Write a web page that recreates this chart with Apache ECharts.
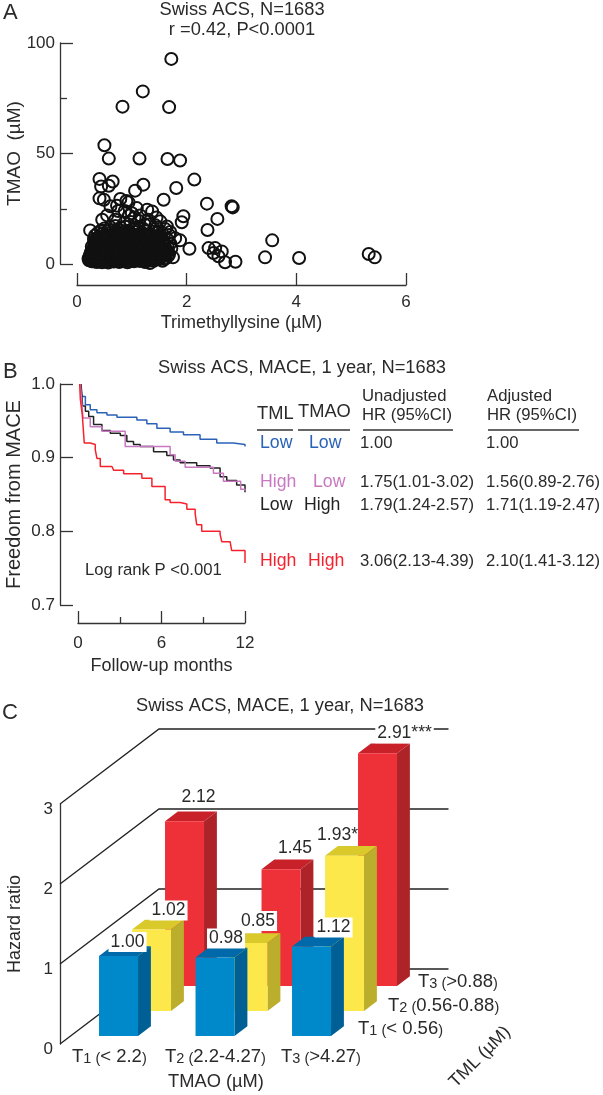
<!DOCTYPE html>
<html><head><meta charset="utf-8">
<script src="https://cdn.jsdelivr.net/npm/echarts@6/dist/echarts.min.js"></script>
<style>html,body{margin:0;padding:0;background:#fff}#c{width:603px;height:1095px}</style>
</head><body><div id="c"></div>
<script>
// Panel A: TML (x), TMAO (y)
const scatterOutliers=[[1.72,92.8],[1.20,78.1],[.83,71.2],[1.68,71.0],[.50,53.7],[.58,47.7],[1.14,47.7],[1.65,47.5],[1.88,46.8],[2.14,38.2],[.41,38.5],[.65,37.3],[1.21,35.9],[.44,35.1],[.58,35.4],[1.06,33.2],[1.81,34.4],[.41,29.7],[.49,29.1],[.79,29.4],[1.58,29.1],[2.37,27.3],[2.82,26.1],[2.84,25.6],[.73,26.4],[.61,26.1],[.94,27.9],[1.09,25.3],[1.28,24.6],[1.37,23.8],[1.0,23],[1.94,21.6],[1.91,18.9],[2.56,20.4],[2.38,15.4],[.46,20],[.70,20],[.24,15.2],[1.52,19.3],[1.24,17.8],[1.64,17],[1.88,10.7],[2.05,6.9],[2.40,7.2],[2.52,7.2],[2.64,5.7],[2.49,5],[2.58,3.5],[2.70,.8],[2.89,1],[3.43,3],[3.56,10.7],[4.05,2.7],[5.32,4.5],[5.43,3],[1.79,11.7],[1.72,7],[1.68,4.5],[1.75,3],[1.56,1.5],[1.33,.4],[.9,28.5],[1.05,21],[.87,24],[1.13,19.5],[1.46,16.5],[1.7,14.5],[1.55,14.2],[.55,22],[.75,24],[.95,22],[1.15,22],[1.3,20],[1.45,21],[1.1,16.8],[.98,19],[.86,18.5],[1.33,18],[1.43,17.5]];
const scatterBlob=[[.21,2.4],[.23,3.6],[.22,1.7],[.25,5.1],[.24,2.8],[.27,1.2],[.26,4.2],[.28,6.4],[.29,2.2],[.27,7.8],[.31,9.4],[.30,3.3],[.32,1.1],[.33,5.6],[.31,11.2],[.34,7.1],[.35,2.6],[.33,12.9],[.36,4.1],[.37,.9],[.36,8.7],[.38,14.1],[.39,10.3],[.38,6.2],[.40,3.1],[.41,1.6],[.42,12.1],[.41,7.6],[.43,4.9],[.44,15.2],[.45,9.1],[.44,2.3],[.46,.8],[.47,5.9],[.48,11.4],[.47,13.6],[.49,3.6],[.50,7.3],[.51,1.4],[.50,16.1],[.52,9.8],[.53,4.6],[.54,12.7],[.53,2.1],[.55,6.6],[.56,14.8],[.57,.7],[.56,8.4],[.58,3.2],[.59,10.9],[.60,5.2],[.61,16.6],[.60,1.9],[.62,13.1],[.63,7.7],[.64,2.9],[.63,9.6],[.65,4.4],[.66,15.3],[.67,1.1],[.66,11.8],[.68,6.1],[.69,3.5],[.70,17.2],[.71,8.9],[.72,1.7],[.71,13.9],[.73,5.3],[.74,10.4],[.75,2.6],[.76,15.7],[.75,7.2],[.77,.9],[.78,4.1],[.79,12.3],[.80,9.1],[.81,2.2],[.80,16.4],[.82,6.4],[.83,3.4],[.84,14.2],[.85,1.3],[.86,10.8],[.85,7.9],[.87,4.8],[.88,16.9],[.89,2.7],[.90,12.7],[.91,5.9],[.92,.8],[.91,9.3],[.93,3.8],[.94,15.1],[.95,7.1],[.96,1.9],[.97,11.3],[.98,4.7],[.99,13.8],[1.0,2.9],[1.01,8.4],[1.02,6.1],[1.03,16.2],[1.04,1.2],[1.05,10.1],[1.06,3.7],[1.07,13.1],[1.08,5.4],[1.09,2.1],[1.10,8.8],[1.11,15.3],[1.12,4.2],[1.13,11.6],[1.14,1.4],[1.15,6.9],[1.16,3.1],[1.17,13.6],[1.18,9.4],[1.19,5.1],[1.20,2.3],[1.21,15.9],[1.22,7.6],[1.23,11.1],[1.24,.9],[1.25,4.3],[1.26,9.9],[1.27,2.9],[1.28,13.4],[1.29,6.1],[1.30,1.7],[1.31,8.2],[1.32,3.9],[1.33,12.1],[1.34,5.6],[1.35,2.4],[1.36,10.2],[1.37,7.3],[1.38,14.6],[1.39,3.2],[1.40,1.4],[1.41,9.1],[1.42,5.1],[1.43,12.4],[1.44,2.6],[1.45,6.9],[1.46,4.1],[1.47,10.7],[1.48,14.9],[1.50,2.2],[1.51,8.4],[1.52,5.4],[1.53,12.2],[1.54,3.3],[1.56,9.9],[1.58,6.6],[1.60,4.0],[1.61,15.8],[1.62,2.6],[1.64,11.4],[1.65,8.1],[1.66,5.7],[1.68,13.1],[1.70,9.3],
[.24,1.9],[.29,3.9],[.32,6.7],[.35,1.5],[.37,11.8],[.40,5.2],[.42,2.2],[.45,7.1],[.46,3.2],[.49,1.8],[.50,10.3],[.52,2.8],[.54,6.2],[.55,3.7],[.57,9.7],[.58,1.6],[.60,7.2],[.61,2.5],[.62,4.9],[.64,1.7],[.65,12.4],[.67,3.6],[.68,8.1],[.70,2.3],[.71,5.7],[.72,10.1],[.74,3.3],[.76,1.5],[.77,6.8],[.78,13.4],[.80,4.4],[.81,8.2],[.83,2.1],[.84,5.5],[.85,11.2],[.87,1.6],[.88,3.8],[.89,7.4],[.90,14.9],[.92,2.4],[.93,6.3],[.94,9.9],[.96,3.4],[.97,1.2],[.98,5.6],[1.0,12.4],[1.01,4.1],[1.02,2.2],[1.04,7.7],[1.05,3.1],[1.06,10.9],[1.08,1.8],[1.09,6.2],[1.10,3.9],[1.12,12.8],[1.13,2.2],[1.15,5.1],[1.16,8.9],[1.18,1.6],[1.19,3.6],[1.21,6.6],[1.22,9.3],[1.24,2.6],[1.25,12.6],[1.27,4.9],[1.29,3.1],[1.30,7.2],[1.33,1.6],[1.34,9.4],[1.37,4.4],[1.39,2.3],[1.41,6.3],[1.43,3.7],[1.46,8.3],[1.49,2.9],[1.52,3.9],[1.55,7.1],[1.59,2.3],[1.62,6.3],[1.66,3.6],
[.30,4.8],[.34,3.2],[.39,2.1],[.43,8.4],[.48,4.5],[.51,6.1],[.55,1.3],[.59,4.6],[.62,10.2],[.66,2.1],[.69,6.9],[.73,2.9],[.77,10.9],[.82,4.1],[.86,2.7],[.90,6.7],[.94,3.4],[.99,9.1],[1.03,4.9],[1.07,2.6],[1.11,7.1],[1.17,4.6],[1.23,5.1],[1.31,3.3],[1.38,6.1],[.44,5.5],[.53,8.6],[.63,6.3],[.74,8.1],[.83,7.9],[.95,5.1],[1.05,5.7],[1.20,3.9],[1.35,7.7],[1.47,5.9],
[.28,3.1],[.31,1.9],[.33,4.4],[.35,6.3],[.37,2.4],[.39,4.3],[.42,3.8],[.43,1.3],[.46,4.9],[.47,2.6],[.49,8.2],[.50,5.1],[.52,3.5],[.55,5.2],[.56,2.4],[.57,7.4],[.59,3.7],[.61,6.1],[.62,1.3],[.64,8.4],[.65,3.3],[.67,5.2],[.68,2.2],[.69,9.7],[.71,4.1],[.73,7.7],[.74,1.4],[.76,5.1],[.77,3.1],[.79,7.1],[.80,1.9],[.81,5.7],[.83,9.9],[.84,2.9],[.86,6.1],[.87,3.6],[.88,8.9],[.90,4.4],[.91,2.1],[.93,7.9],[.94,5.3],[.96,10.3],[.97,3.7],[.98,7.4],[1.0,1.9],[1.01,5.6],[1.03,3.2],[1.04,9.4],[1.06,6.3],[1.07,1.8],[1.09,4.6],[1.10,7.6],[1.12,2.7],[1.13,9.7],[1.15,3.6],[1.17,7.2],[1.18,2.6],[1.20,5.8],[1.22,3.2],[1.23,8.3],[1.25,2.2],[1.26,6.2],[1.28,4.2],[1.30,9.6],[1.31,5.4],[1.33,2.8],[1.35,4.2],[1.36,8.3],[1.38,2.1],[1.40,6.6],[1.42,3.4],[1.44,9.4],[1.45,5.3],[1.48,3.3],[1.50,7.1],[1.53,4.6],[1.57,5.2],[1.60,8.1],
[.27,2.1],[.30,6.1],[.32,3.6],[.34,9.7],[.36,5.4],[.37,3.4],[.40,8.7],[.41,10.9],[.43,6.6],[.44,3.6],[.46,10.7],[.48,6.7],[.49,12.6],[.51,8.9],[.52,4.9],[.54,10.4],[.55,8.1],[.57,12.4],[.58,5.9],[.60,9.1],[.61,11.7],[.63,4.4],[.64,11.4],[.66,7.3],[.67,9.9],[.69,12.9],[.70,5.1],[.72,7.4],[.73,11.1],[.75,9.1],[.76,12.2],[.78,6.1],[.79,10.1],[.81,13.1],[.82,8.7],[.84,6.9],[.86,12.4],[.87,9.7],[.89,5.3],[.91,11.1],[.92,7.3],[.93,13.2],[.95,9.3],[.97,6.2],[.98,11.9],[1.0,7.8],[1.01,10.6],[1.03,8.7],[1.05,12.4],[1.07,7.2],[1.09,11.4],[1.11,9.4],[1.13,6.1],[1.14,12.7],[1.16,10.3],[1.18,7.7],[1.20,11.7],[1.22,4.2],[1.24,10.2],[1.26,7.6],[1.27,11.6],[1.29,8.9],[1.32,10.9],[1.34,7.1],[1.36,12.9],[1.39,8.6],[1.41,11.4],[1.44,7.7],[1.47,12.7],[1.50,10.1],[1.55,11.1],[1.58,9.1]];
const scatterPoints=scatterOutliers.concat(scatterBlob);

// Panel B: Kaplan-Meier curves, [month, freedom from MACE]
const kmLowLow=[[.17,1],[.29,.983],[.53,.972],[.88,.965],[1.36,.961],[2.08,.958],[2.80,.955],[3.75,.955],[4.23,.951],[4.95,.946],[5.67,.940],[6.62,.935],[7.58,.931],[8.77,.925],[9.97,.920],[11.16,.918],[12,.915]];
const kmHighLow=[[.17,1],[.29,.970],[.36,.954],[.88,.942],[1.72,.936],[3.39,.915],[6.62,.904],[6.98,.895],[7.70,.887],[9.73,.879],[10.45,.868],[11.69,.857],[12,.855]];
const kmLowHigh=[[.22,1],[.33,.970],[.53,.963],[.77,.956],[1.12,.945],[1.72,.937],[2.32,.933],[3.04,.930],[3.51,.922],[3.99,.918],[4.47,.915],[5.43,.908],[6.38,.903],[6.86,.897],[7.34,.893],[8.53,.889],[9.49,.886],[10.21,.874],[10.69,.869],[11.40,.863],[12,.853]];
const kmHighHigh=[[.12,1],[.17,.979],[.31,.958],[.45,.920],[.88,.918],[1.24,.911],[1.36,.899],[1.60,.888],[2.44,.887],[2.56,.883],[3.28,.878],[4.59,.872],[5.31,.861],[6.26,.843],[6.62,.839],[7.34,.837],[7.82,.830],[8.42,.824],[8.53,.809],[8.89,.800],[10.21,.796],[10.33,.786],[10.93,.784],[11.04,.774],[12,.774],[12,.757]];
const tableHeader=['TML','TMAO','Unadjusted','HR (95%CI)','Adjusted','HR (95%CI)'];
const tableRows=[
 ['Low','Low','1.00','1.00'],
 ['High','Low','1.75(1.01-3.02)','1.56(0.89-2.76)'],
 ['Low','High','1.79(1.24-2.57)','1.71(1.19-2.47)'],
 ['High','High','3.06(2.13-4.39)','2.10(1.41-3.12)']];

// Panel C: hazard ratios by TMAO tertile (columns) and TML tertile (rows)
const tmaoTertiles=['T1 (< 2.2)','T2 (2.2-4.27)','T3 (>4.27)'];
const tmlTertiles=['T1 (< 0.56)','T2 (0.56-0.88)','T3 (>0.88)'];
const hrT1=[1.00,0.98,1.12];
const hrT2=[1.02,0.85,1.94];
const hrT3=[2.06,1.46,2.91];
const hrLabelsT1=['1.00','0.98','1.12'];
const hrLabelsT2=['1.02','0.85','1.93*'];
const hrLabelsT3=['2.12','1.45','2.91***'];
const wallTicks=[0,1,2,3];

const TXT='#2a2a2a', FF='"Liberation Sans",Arial,sans-serif';
const rowColor=[
 {front:'#0089ca',top:'#0069a9',side:'#005f94'},
 {front:'#fce84a',top:'#d9c92b',side:'#bcae2d'},
 {front:'#ee3039',top:'#c8212a',side:'#ad2328'}];
const labelStyle=[
 {dx:[9,11,22],dy:[-14,-19,-19],bg:['#fff','#fff','#fff']},
 {dx:[17,10,-7],dy:[-19,-22,-21],bg:['#fff','#fff',null]},
 {dx:[14,14,27],dy:[-24,-21,-20],bg:[null,null,'#fff']}];
// oblique projection of (tertile position, depth, value) to axis data
const DEPTH_T=33/96.5, DEPTH_V=25/80;
function proj(t,d,v){return [t+d*DEPTH_T, v+d*DEPTH_V];}
const ROW_D=0.32, BAR_T=0.295, BAR_W=39/96.5, BAR_D=0.39;

function renderWall(params,api){
 const v=api.value(2);
 const pts=[proj(0,0,v),proj(0,3,v),proj(3,3,v)].map(p=>api.coord(p));
 return {type:'polyline',shape:{points:pts},style:{stroke:'#222',lineWidth:1.3,fill:null}};
}
function renderBar(params,api){
 const i=api.value(0), j=api.value(1), v=api.value(2);
 const d=j+ROW_D, t0=i+BAR_T, t1=t0+BAR_W, d1=d+BAR_D;
 const c=rowColor[j], P=(t,dd,vv)=>api.coord(proj(t,dd,vv));
 const poly=(pts,fill)=>({type:'polygon',shape:{points:pts},style:{fill:fill,stroke:null}});
 return {type:'group',children:[
  poly([P(t0,d,v),P(t1,d,v),P(t1,d1,v),P(t0,d1,v)],c.top),
  poly([P(t1,d,0),P(t1,d1,0),P(t1,d1,v),P(t1,d,v)],c.side),
  poly([P(t0,d,0),P(t1,d,0),P(t1,d,v),P(t0,d,v)],c.front)]};
}
function renderLabel(params,api){
 const i=api.value(0), j=api.value(1), v=api.value(2);
 const d=j+ROW_D, t0=i+BAR_T;
 const p=api.coord(proj(t0+BAR_W/2,d,v)), s=labelStyle[j];
 const txt=[hrLabelsT1,hrLabelsT2,hrLabelsT3][j][i];
 return {type:'text',x:p[0]+s.dx[i],y:p[1]+s.dy[i],style:{text:txt,fill:TXT,font:'17.5px '+FF,align:'center',verticalAlign:'middle',
   backgroundColor:s.bg[i]||'transparent',padding:s.bg[i]?[1,2,1,2]:0}};
}
const hrSeq=[hrT3,hrT2,hrT1], rowOf=[2,1,0];
const barSeries=hrSeq.map((arr,k)=>({type:'custom',xAxisIndex:2,yAxisIndex:2,coordinateSystem:'cartesian2d',renderItem:renderBar,
  encode:{x:0,y:2},data:arr.map((v,i)=>[i,rowOf[k],v]),silent:true,z:3+k}));
const labelData=[];
hrSeq.forEach((arr,k)=>arr.forEach((v,i)=>labelData.push([i,rowOf[k],v])));

function axisCommon(){return {axisLine:{show:true,onZero:false,lineStyle:{color:'#333',width:1.3}},axisTick:{show:true,inside:true,lineStyle:{color:'#333',width:1.3}},
 splitLine:{show:false},axisLabel:{color:TXT,fontSize:17,fontFamily:FF},nameTextStyle:{color:TXT,fontSize:18,fontFamily:FF},nameLocation:'middle',nameMoveOverlap:false};}
function txt(x,y,t,o){return {type:'text',x:x,y:y,silent:true,style:Object.assign({text:t,fill:TXT,font:'16.7px '+FF,align:'left',verticalAlign:'middle'},o||{})};}
function ln(x1,x2,y){return {type:'line',silent:true,shape:{x1:x1,y1:y,x2:x2,y2:y},style:{stroke:'#333',lineWidth:1.3}};}
const HEAD='18.3px '+FF, LET='22px '+FF, TM='17.7px '+FF;
const rowCol=['#2a62b8','#c878c0','#222','#f5222d'];
const rowY=[443,482,505,561];
const tmlX=[260,260,260,260], tmaoX=[309,313,304,308];
const g=[];
g.push(txt(3,13,'A',{font:LET}),txt(3,372,'B',{font:LET}),txt(2,713,'C',{font:LET}));
g.push(txt(242,10,'Swiss ACS, N=1683',{align:'center',font:HEAD}),txt(242,30,'r =0.42, P<0.0001',{align:'center',font:HEAD}));
g.push(txt(302,368,'Swiss ACS, MACE, 1 year, N=1683',{align:'center',font:HEAD}));
g.push(txt(280,706,'Swiss ACS, MACE, 1 year, N=1683',{align:'center',font:HEAD}));
g.push(txt(85,570,'Log rank P <0.001'));
g.push(txt(257,414,tableHeader[0],{font:HEAD}),txt(298,412,tableHeader[1],{font:HEAD}),
 txt(362,396,tableHeader[2]),txt(362,415,tableHeader[3]),txt(487,396,tableHeader[4]),txt(487,415,tableHeader[5]));
g.push(ln(257,293,430),ln(298,350,430),ln(363,453,430),ln(488,579,430));
tableRows.forEach((r,k)=>{
 g.push(txt(tmlX[k],rowY[k],r[0],{fill:rowCol[k],font:TM}),txt(tmaoX[k],rowY[k],r[1],{fill:rowCol[k],font:TM}),
  txt(360,rowY[k],r[2]),txt(486,rowY[k],r[3]));
});
const rich={a:{fontSize:18.5,fontFamily:FF,color:TXT},s:{fontSize:14.5,fontFamily:FF,color:TXT,padding:[3,0,0,0]}};
function ttxt(x,y,label){
 const m=label.match(/^T(\d) \(([^)]*)\)$/);
 return {type:'text',x:x,y:y,silent:true,style:{text:'{a|T}{s|'+m[1]+' (}{a|'+m[2]+'}{s|)}',rich:rich,fill:TXT,font:'18px '+FF,align:'left',verticalAlign:'middle'}};
}
[72,165,281].forEach((x,i)=>g.push(ttxt(x,1057,tmaoTertiles[i])));
g.push(txt(216,1082,'TMAO (µM)',{align:'center',font:HEAD}));
g.push(ttxt(358,1029,tmlTertiles[0]),ttxt(388,1006,tmlTertiles[1]),ttxt(418,982,tmlTertiles[2]));
g.push({type:'text',x:480,y:1057,rotation:Math.PI/4,silent:true,style:{text:'TML (µM)',fill:TXT,font:'18px '+FF,align:'center',verticalAlign:'middle'}});

const tick=l=>({show:true,inside:true,length:l,lineStyle:{color:'#333',width:1.3}});
const option={
 backgroundColor:'#fff',animation:false,
 grid:[
  {left:77,top:43,width:329,height:221,outerBoundsMode:'none'},
  {left:78,top:384,width:167,height:221,outerBoundsMode:'none'},
  {left:60,top:804,width:386,height:240,outerBoundsMode:'none'}],
 xAxis:[
  Object.assign(axisCommon(),{gridIndex:0,type:'value',min:0,max:6,interval:2,offset:21,name:'Trimethyllysine (µM)',nameGap:29,axisTick:tick(12),axisLabel:{color:TXT,fontSize:17,fontFamily:FF,margin:9}}),
  Object.assign(axisCommon(),{gridIndex:1,type:'value',min:0,max:12,interval:6,offset:18,name:'Follow-up months',nameGap:34,axisTick:tick(12),minorTick:{show:true,splitNumber:2,length:6,lineStyle:{color:'#333',width:1.3}},axisLabel:{color:TXT,fontSize:17,fontFamily:FF,margin:12}}),
  {gridIndex:2,type:'value',min:0,max:4,show:false}],
 yAxis:[
  Object.assign(axisCommon(),{gridIndex:0,type:'value',min:0,max:100,interval:50,offset:17,name:'TMAO  (µM)',nameGap:36,nameTextStyle:{color:TXT,fontSize:19,fontFamily:FF},axisTick:tick(13),minorTick:{show:true,splitNumber:2,length:7,lineStyle:{color:'#333',width:1.3}},axisLabel:{color:TXT,fontSize:17,fontFamily:FF,margin:5}}),
  Object.assign(axisCommon(),{gridIndex:1,type:'value',min:.7,max:1,interval:.1,offset:18,name:'Freedom from MACE',nameGap:36,nameTextStyle:{color:TXT,fontSize:20,fontFamily:FF},axisTick:tick(13),axisLabel:{color:TXT,fontSize:17,fontFamily:FF,margin:5,formatter:v=>v.toFixed(1)}}),
  Object.assign(axisCommon(),{gridIndex:2,type:'value',min:0,max:3,interval:1,name:'Hazard ratio',nameGap:36,axisTick:{show:false},axisLabel:{color:TXT,fontSize:17,fontFamily:FF,margin:7,verticalAlign:'top',lineHeight:10}})],
 series:[
  {type:'scatter',xAxisIndex:0,yAxisIndex:0,data:scatterPoints,symbol:'circle',symbolSize:12,silent:true,clip:false,itemStyle:{color:'rgba(0,0,0,0)',borderColor:'#111',borderWidth:2,opacity:1}},
  {type:'line',xAxisIndex:1,yAxisIndex:1,step:'end',data:kmLowLow,symbol:'none',silent:true,lineStyle:{color:rowCol[0],width:1.5}},
  {type:'line',xAxisIndex:1,yAxisIndex:1,step:'end',data:kmLowHigh,symbol:'none',silent:true,lineStyle:{color:rowCol[2],width:1.5}},
  {type:'line',xAxisIndex:1,yAxisIndex:1,step:'end',data:kmHighLow,symbol:'none',silent:true,lineStyle:{color:rowCol[1],width:1.5}},
  {type:'line',xAxisIndex:1,yAxisIndex:1,step:'end',data:kmHighHigh,symbol:'none',silent:true,lineStyle:{color:rowCol[3],width:1.5}},
  {type:'custom',xAxisIndex:2,yAxisIndex:2,renderItem:renderWall,encode:{x:0,y:2},data:wallTicks.map(v=>[0,0,v]),silent:true,z:2,clip:false}
 ].concat(barSeries).concat([
  {type:'custom',xAxisIndex:2,yAxisIndex:2,renderItem:renderLabel,encode:{x:0,y:2},data:labelData,silent:true,z:10,clip:false}
 ]),
 graphic:g
};
echarts.init(document.getElementById('c'),null,{renderer:'canvas'}).setOption(option);
</script></body></html>
